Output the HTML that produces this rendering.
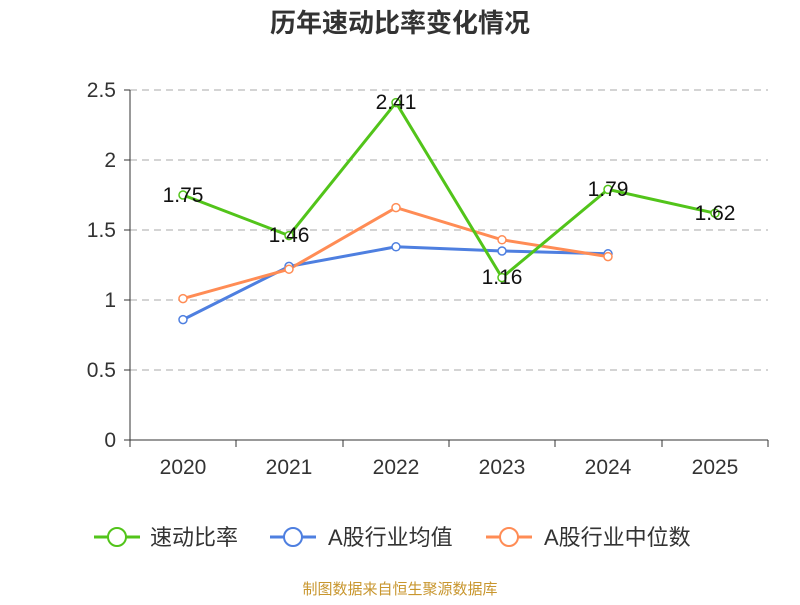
<!DOCTYPE html>
<html><head><meta charset="utf-8"><style>
html,body{margin:0;padding:0;background:#fff;}
svg text{font-family:"Liberation Sans","Noto Sans CJK SC",sans-serif;}
</style></head><body>
<svg width="800" height="600" xmlns="http://www.w3.org/2000/svg">
<text x="400" y="32" text-anchor="middle" font-size="26" font-weight="bold" fill="#333">历年速动比率变化情况</text>
<g stroke="#bbb" stroke-dasharray="7,5" stroke-width="1.2">
<line x1="130" y1="90" x2="768" y2="90"/>
<line x1="130" y1="160" x2="768" y2="160"/>
<line x1="130" y1="230" x2="768" y2="230"/>
<line x1="130" y1="300" x2="768" y2="300"/>
<line x1="130" y1="370" x2="768" y2="370"/>
</g>
<g stroke="#333" stroke-width="1">
<line x1="130" y1="90" x2="130" y2="440"/>
<line x1="130" y1="440" x2="768" y2="440"/>
<line x1="124" y1="90" x2="130" y2="90"/><line x1="124" y1="160" x2="130" y2="160"/>
<line x1="124" y1="230" x2="130" y2="230"/><line x1="124" y1="300" x2="130" y2="300"/>
<line x1="124" y1="370" x2="130" y2="370"/><line x1="124" y1="440" x2="130" y2="440"/>
<line x1="130" y1="440" x2="130" y2="447"/><line x1="236" y1="440" x2="236" y2="447"/>
<line x1="343" y1="440" x2="343" y2="447"/><line x1="449" y1="440" x2="449" y2="447"/>
<line x1="555" y1="440" x2="555" y2="447"/><line x1="662" y1="440" x2="662" y2="447"/>
<line x1="768" y1="440" x2="768" y2="447"/>
</g>
<g font-size="21" fill="#333" text-anchor="end">
<text x="116" y="97">2.5</text><text x="116" y="167">2</text><text x="116" y="237">1.5</text>
<text x="116" y="307">1</text><text x="116" y="377">0.5</text><text x="116" y="447">0</text>
</g>
<g font-size="21" fill="#333" text-anchor="middle">
<text x="183" y="474">2020</text><text x="289" y="474">2021</text><text x="396" y="474">2022</text>
<text x="502" y="474">2023</text><text x="608" y="474">2024</text><text x="715" y="474">2025</text>
</g>
<g fill="none" stroke-width="3">
<polyline stroke="#4e7fe0" points="183,319.6 289,266.4 396,246.8 502,251 608,253.8"/>
<polyline stroke="#ff8c55" points="183,298.6 289,269.2 396,207.6 502,239.8 608,256.6"/>
<polyline stroke="#52c41a" points="183,195 289,235.6 396,102.6 502,277.6 608,189.4 715,213.2"/>
</g>
<g fill="#fff" stroke-width="1.5">
<g stroke="#4e7fe0"><circle cx="183" cy="319.6" r="4"/><circle cx="289" cy="266.4" r="4"/><circle cx="396" cy="246.8" r="4"/><circle cx="502" cy="251" r="4"/><circle cx="608" cy="253.8" r="4"/></g>
<g stroke="#ff8c55"><circle cx="183" cy="298.6" r="4"/><circle cx="289" cy="269.2" r="4"/><circle cx="396" cy="207.6" r="4"/><circle cx="502" cy="239.8" r="4"/><circle cx="608" cy="256.6" r="4"/></g>
<g stroke="#52c41a"><circle cx="183" cy="195" r="4"/><circle cx="289" cy="235.6" r="4"/><circle cx="396" cy="102.6" r="4"/><circle cx="502" cy="277.6" r="4"/><circle cx="608" cy="189.4" r="4"/><circle cx="715" cy="213.2" r="4"/></g>
</g>
<g font-size="21" fill="#111" text-anchor="middle">
<text x="183" y="202">1.75</text><text x="289" y="242">1.46</text><text x="396" y="109">2.41</text>
<text x="502" y="284">1.16</text><text x="608" y="196">1.79</text><text x="715" y="220">1.62</text>
</g>
<g font-size="22" fill="#333" stroke-width="3">
<line x1="94" y1="537" x2="140" y2="537" stroke="#52c41a"/><circle cx="117" cy="537" r="9" fill="#fff" stroke="#52c41a" stroke-width="2"/>
<text x="150" y="545">速动比率</text>
<line x1="270" y1="537" x2="316" y2="537" stroke="#4e7fe0"/><circle cx="293" cy="537" r="9" fill="#fff" stroke="#4e7fe0" stroke-width="2"/>
<text x="328" y="545">A股行业均值</text>
<line x1="486" y1="537" x2="532" y2="537" stroke="#ff8c55"/><circle cx="509" cy="537" r="9" fill="#fff" stroke="#ff8c55" stroke-width="2"/>
<text x="544" y="545">A股行业中位数</text>
</g>
<text x="400" y="594" text-anchor="middle" font-size="15" fill="#c8962e">制图数据来自恒生聚源数据库</text>
</svg>
</body></html>
